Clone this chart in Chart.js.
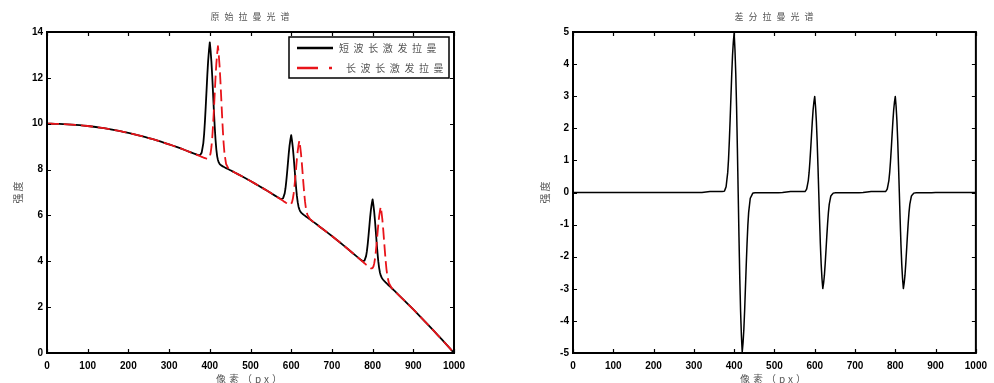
<!DOCTYPE html>
<html>
<head>
<meta charset="utf-8">
<script src="https://cdn.jsdelivr.net/npm/chart.js@4.4.1/dist/chart.umd.min.js"></script>
<style>
	html, body { margin: 0; padding: 0; background: #fff; }
	#wrap { display: flex; width: 994px; height: 383px; }
	.box { width: 497px; height: 383px; }
</style>
</head>
<body>
<div id="wrap">
	<div class="box"><canvas id="rawChart" width="497" height="383"></canvas></div>
	<div class="box"><canvas id="diffChart" width="497" height="383"></canvas></div>
</div>
<script>
// pixel positions (x axis)
const pixelPos = [
	0, 20, 40, 60, 80, 100, 120, 140, 160, 180, 200, 220, 240, 260, 280, 300, 320, 340,
	360, 370, 376, 380, 384, 386, 388, 390, 392, 394, 396, 398, 400, 402, 404, 406, 408, 410,
	412, 414, 416, 418, 420, 422, 424, 426, 428, 430, 432, 434, 436, 440, 446, 452, 460,
	480, 500, 520, 540,
	560, 570, 576, 580, 584, 586, 588, 590, 592, 594, 596, 598, 600, 602, 604, 606, 608, 610,
	612, 614, 616, 618, 620, 622, 624, 626, 628, 630, 632, 634, 636, 640, 646, 652, 660,
	680, 700, 720, 740,
	760, 770, 776, 780, 784, 786, 788, 790, 792, 794, 796, 798, 800, 802, 804, 806, 808, 810,
	812, 814, 816, 818, 820, 822, 824, 826, 828, 830, 832, 834, 836, 840, 846, 852, 860,
	880, 900, 920, 940, 960, 980, 1000
];

// short-wave excitation Raman (black)
const shortWave = [
	10, 9.996, 9.984, 9.964, 9.936, 9.9, 9.856, 9.804, 9.744, 9.676, 9.6, 9.516, 9.424, 9.324, 9.216, 9.1, 8.976, 8.844,
	8.704, 8.641, 8.632, 8.736, 9.143, 9.540, 10.092, 10.745, 11.450, 12.156, 12.758, 13.206, 13.55, 13.174, 12.694, 12.060, 11.322, 10.585,
	9.900, 9.316, 8.887, 8.588, 8.416, 8.312, 8.248, 8.211, 8.183, 8.161, 8.139, 8.121, 8.099, 8.064, 8.011, 7.957, 7.884,
	7.696, 7.5, 7.296, 7.084,
	6.864, 6.757, 6.710, 6.745, 6.961, 7.186, 7.504, 7.883, 8.293, 8.704, 9.052, 9.307, 9.5, 9.259, 8.956, 8.560, 8.101, 7.643,
	7.216, 6.850, 6.577, 6.383, 6.265, 6.187, 6.134, 6.097, 6.065, 6.037, 6.009, 5.983, 5.955, 5.904, 5.827, 5.749, 5.644,
	5.376, 5.1, 4.816, 4.524,
	4.224, 4.077, 4.006, 4.025, 4.225, 4.442, 4.752, 5.123, 5.525, 5.928, 6.268, 6.515, 6.7, 6.451, 6.140, 5.736, 5.269, 4.803,
	4.368, 3.994, 3.713, 3.511, 3.385, 3.299, 3.238, 3.193, 3.153, 3.117, 3.081, 3.047, 3.011, 2.944, 2.843, 2.741, 2.604,
	2.256, 1.9, 1.536, 1.164, 0.784, 0.396, 0
];

// long-wave excitation Raman (red dashed)
const longWave = [
	10, 9.996, 9.984, 9.964, 9.936, 9.9, 9.856, 9.804, 9.744, 9.676, 9.6, 9.516, 9.424, 9.324, 9.216, 9.1, 8.976, 8.844,
	8.704, 8.631, 8.586, 8.556, 8.525, 8.515, 8.500, 8.489, 8.478, 8.474, 8.478, 8.509, 8.580, 8.719, 8.986, 9.382, 9.932, 10.585,
	11.290, 11.994, 12.595, 13.043, 13.386, 13.009, 12.528, 11.893, 11.155, 10.417, 9.731, 9.146, 8.717, 8.244, 8.037, 7.962, 7.884,
	7.696, 7.5, 7.296, 7.084,
	6.864, 6.751, 6.682, 6.636, 6.589, 6.569, 6.546, 6.525, 6.504, 6.488, 6.476, 6.480, 6.509, 6.578, 6.724, 6.948, 7.264, 7.643,
	8.053, 8.462, 8.809, 9.064, 9.256, 9.014, 8.710, 8.313, 7.854, 7.395, 6.967, 6.600, 6.327, 6.013, 5.843, 5.752, 5.644,
	5.376, 5.1, 4.816, 4.524,
	4.224, 4.071, 3.978, 3.916, 3.853, 3.825, 3.794, 3.765, 3.736, 3.712, 3.692, 3.688, 3.709, 3.770, 3.908, 4.124, 4.432, 4.803,
	5.205, 5.606, 5.945, 6.192, 6.376, 6.126, 5.814, 5.409, 4.942, 4.475, 4.039, 3.664, 3.383, 3.053, 2.859, 2.744, 2.604,
	2.256, 1.9, 1.536, 1.164, 0.784, 0.396, 0
];

// difference spectrum (right chart)
const diffSpectrum = [
	0, 0, 0, 0, 0, 0, 0, 0, 0, 0, 0, 0, 0, 0, 0, 0, 0, 0.03,
	0.03, 0.03, 0.046, 0.180, 0.618, 1.025, 1.592, 2.256, 2.972, 3.682, 4.280, 4.697, 4.970, 4.455, 3.708, 2.678, 1.390, 0,
	-1.390, -2.678, -3.708, -4.455, -4.970, -4.697, -4.280, -3.682, -2.972, -2.256, -1.592, -1.025, -0.618, -0.180, -0.026, -0.010, -0.010,
	-0.01, -0.01, 0, 0.03,
	0.03, 0.03, 0.028, 0.109, 0.372, 0.617, 0.958, 1.358, 1.789, 2.216, 2.576, 2.827, 2.991, 2.681, 2.232, 1.612, 0.837, 0,
	-0.837, -1.612, -2.232, -2.681, -2.991, -2.827, -2.576, -2.216, -1.789, -1.358, -0.958, -0.617, -0.372, -0.109, -0.016, -0.01, -0.01,
	-0.01, -0.01, 0, 0.03,
	0.03, 0.03, 0.028, 0.109, 0.372, 0.617, 0.958, 1.358, 1.789, 2.216, 2.576, 2.827, 2.991, 2.681, 2.232, 1.612, 0.837, 0,
	-0.837, -1.612, -2.232, -2.681, -2.991, -2.827, -2.576, -2.216, -1.789, -1.358, -0.958, -0.617, -0.372, -0.109, -0.016, -0.01, -0.01,
	-0.01, 0, 0, 0, 0, 0, 0
];

// tick labels
const xTickValues = [0, 100, 200, 300, 400, 500, 600, 700, 800, 900, 1000];
const rawYTicks = [0, 2, 4, 6, 8, 10, 12, 14];
const diffYTicks = [-5, -4, -3, -2, -1, 0, 1, 2, 3, 4, 5];

const textGray = '#555';
const tickFont = { family: 'Liberation Sans', size: 10, weight: 'bold' };

function toPoints(values) {
	return values.map((v, i) => ({ x: pixelPos[i], y: v }));
}

function drawSpaced(ctx, text, x, y, spacing, align) {
	ctx.letterSpacing = spacing + 'px';
	ctx.textAlign = align;
	ctx.fillText(text, x, y);
	ctx.letterSpacing = '0px';
}

// MATLAB-like frame: box, inward ticks, titles, legend
const matlabFrame = {
	id: 'matlabFrame',
	afterDatasetsDraw(chart, args, opts) {
		const ctx = chart.ctx;
		const a = chart.chartArea;
		const xs = chart.scales.x;
		const ys = chart.scales.y;
		ctx.save();

		// inward ticks
		ctx.strokeStyle = '#000';
		ctx.lineWidth = 1.2;
		ctx.beginPath();
		xs.ticks.forEach(t => {
			const px = Math.round(xs.getPixelForValue(t.value)) + 0.5;
			ctx.moveTo(px, a.bottom); ctx.lineTo(px, a.bottom - 4);
			ctx.moveTo(px, a.top); ctx.lineTo(px, a.top + 4);
		});
		ys.ticks.forEach(t => {
			const py = Math.round(ys.getPixelForValue(t.value)) + 0.5;
			ctx.moveTo(a.left, py); ctx.lineTo(a.left + 4, py);
			ctx.moveTo(a.right, py); ctx.lineTo(a.right - 4, py);
		});
		ctx.stroke();

		// box
		ctx.lineWidth = 2;
		ctx.strokeRect(a.left, a.top, a.right - a.left, a.bottom - a.top);

		const cx = (a.left + a.right) / 2;
		ctx.fillStyle = textGray;
		ctx.textBaseline = 'middle';

		// chart title
		ctx.font = '9px "Noto Sans CJK SC"';
		drawSpaced(ctx, opts.title, cx + 2, 17, 5, 'center');

		// x axis title
		ctx.font = '10px "Noto Sans CJK SC"';
		drawSpaced(ctx, '像素（px）', cx, 379, 3, 'center');

		// y axis title, rotated
		ctx.save();
		ctx.translate(opts.yTitleX, (a.top + a.bottom) / 2);
		ctx.rotate(-Math.PI / 2);
		drawSpaced(ctx, '强度', 1, 0, 2, 'center');
		ctx.restore();

		// legend box inside plot
		if (opts.legend) {
			const lx = 289, ly = 37, lw = 160, lh = 41;
			ctx.fillStyle = '#fff';
			ctx.fillRect(lx, ly, lw, lh);
			ctx.strokeStyle = '#000';
			ctx.lineWidth = 1.5;
			ctx.strokeRect(lx, ly, lw, lh);

			ctx.lineWidth = 2.5;
			ctx.beginPath();
			ctx.moveTo(297, 48); ctx.lineTo(333, 48);
			ctx.stroke();

			ctx.strokeStyle = '#e8141a';
			ctx.setLineDash([21, 11, 3]);
			ctx.beginPath();
			ctx.moveTo(297, 68); ctx.lineTo(333, 68);
			ctx.stroke();
			ctx.setLineDash([]);

			ctx.fillStyle = textGray;
			ctx.font = '10px "Noto Sans CJK SC"';
			drawSpaced(ctx, '短波长激发拉曼', 339, 48, 4.6, 'left');
			drawSpaced(ctx, '长波长激发拉曼', 346, 68, 4.6, 'left');
		}
		ctx.restore();
	}
};

function xScale() {
	return {
		type: 'linear',
		min: 0,
		max: 1000,
		afterBuildTicks: s => { s.ticks = xTickValues.map(v => ({ value: v })); },
		afterFit: s => { s.height = 30; },
		grid: { display: false, drawTicks: false },
		border: { display: false },
		ticks: { color: '#000', font: tickFont, padding: 7, maxRotation: 0, autoSkip: false, callback: v => String(v) }
	};
}

function yScale(min, max, tickValues, width) {
	return {
		type: 'linear',
		min: min,
		max: max,
		afterBuildTicks: s => { s.ticks = tickValues.map(v => ({ value: v })); },
		afterFit: s => { s.width = width; },
		grid: { display: false, drawTicks: false },
		border: { display: false },
		ticks: { color: '#000', font: tickFont, padding: 4, callback: v => String(v) }
	};
}

// tiny tension keeps Chart.js off its pixel-merging fast path
const smoothLine = { tension: 0.01, cubicInterpolationMode: 'default', borderJoinStyle: 'round' };

// left chart: raw Raman spectra
new Chart(document.getElementById('rawChart'), {
	type: 'line',
	data: {
		datasets: [
			Object.assign({
				label: '短波长激发拉曼',
				data: toPoints(shortWave),
				borderColor: '#000',
				borderWidth: 1.8,
				pointRadius: 0,
				order: 1
			}, smoothLine),
			Object.assign({
				label: '长波长激发拉曼',
				data: toPoints(longWave),
				borderColor: '#e8141a',
				borderWidth: 1.8,
				borderDash: [12, 5],
				pointRadius: 0,
				order: 0
			}, smoothLine)
		]
	},
	options: {
		responsive: false,
		animation: false,
		layout: { padding: { left: 0, right: 43, top: 32, bottom: 0 } },
		scales: {
			x: xScale(),
			y: yScale(0, 14, rawYTicks, 47)
		},
		plugins: {
			legend: { display: false },
			tooltip: { enabled: false },
			matlabFrame: { title: '原始拉曼光谱', yTitleX: 18, legend: true }
		}
	},
	plugins: [matlabFrame]
});

// right chart: difference spectrum
new Chart(document.getElementById('diffChart'), {
	type: 'line',
	data: {
		datasets: [Object.assign({
			label: '差分拉曼光谱',
			data: toPoints(diffSpectrum),
			borderColor: '#000',
			borderWidth: 1.5,
			pointRadius: 0
		}, smoothLine)]
	},
	options: {
		responsive: false,
		animation: false,
		layout: { padding: { left: 0, right: 14, top: 32, bottom: 0 } },
		scales: {
			x: xScale(),
			y: yScale(-5, 5, diffYTicks, 76)
		},
		plugins: {
			legend: { display: false },
			tooltip: { enabled: false },
			matlabFrame: { title: '差分拉曼光谱', yTitleX: 48, legend: false }
		}
	},
	plugins: [matlabFrame]
});
</script>
</body>
</html>
